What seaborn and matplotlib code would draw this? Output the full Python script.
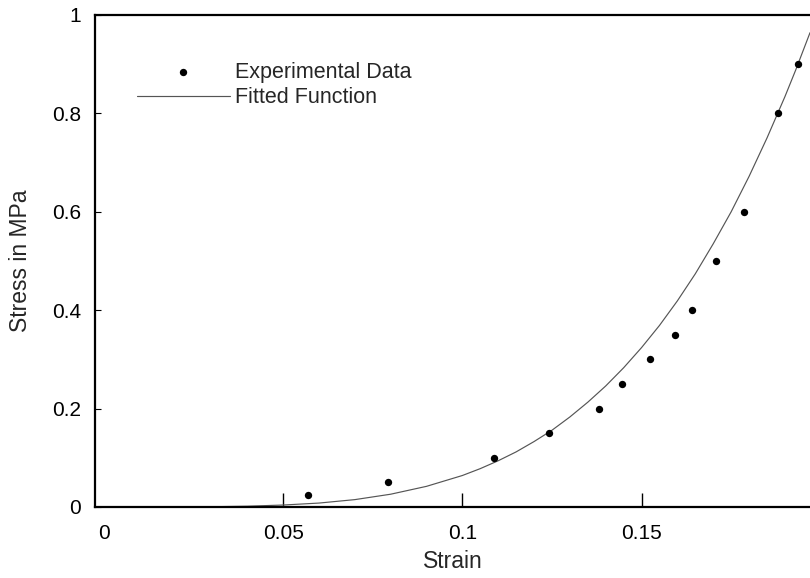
import matplotlib
matplotlib.use("Agg")
import matplotlib.pyplot as plt
import pandas as pd
import seaborn as sns

strain_exp = [0.057, 0.0793, 0.1087, 0.1243, 0.138, 0.1445, 0.1524, 0.1592, 0.164, 0.1707, 0.1785, 0.188, 0.1936]
stress_exp = [0.025, 0.05, 0.1, 0.15, 0.2, 0.25, 0.3, 0.35, 0.4, 0.5, 0.6, 0.8, 0.9]

# fitted curve, sampled from the drawn line
strain_fit = [0.0, 0.02, 0.03, 0.04, 0.05, 0.06, 0.07, 0.08, 0.09, 0.10, 0.105, 0.11, 0.115,
              0.12, 0.125, 0.13, 0.135, 0.14, 0.145, 0.15, 0.155, 0.16, 0.165, 0.17,
              0.175, 0.18, 0.185, 0.19, 0.193, 0.197]
stress_fit = [0.0, 0.0001, 0.0005, 0.0016, 0.004, 0.008, 0.015, 0.026, 0.042, 0.064, 0.078, 0.094, 0.112,
              0.133, 0.156, 0.183, 0.213, 0.246, 0.283, 0.324, 0.369, 0.419, 0.474, 0.535,
              0.600, 0.672, 0.750, 0.834, 0.888, 0.964]

x_ticks = [0, 0.05, 0.1, 0.15]
x_ticklabels = ["0", "0.05", "0.1", "0.15"]
y_ticks = [0, 0.2, 0.4, 0.6, 0.8, 1.0]
y_ticklabels = ["0", "0.2", "0.4", "0.6", "0.8", "1"]

df_exp = pd.DataFrame({"Strain": strain_exp, "Stress": stress_exp})
df_fit = pd.DataFrame({"Strain": strain_fit, "Stress": stress_fit})

sns.set_style("ticks")
plt.rcParams["font.family"] = ["Liberation Sans", "DejaVu Sans"]

fig = plt.figure(figsize=(8.1, 5.78), dpi=100)
ax = fig.add_axes([95 / 810, 1 - 507 / 578, 1 - 95 / 810, (507 - 15) / 578])

sns.lineplot(data=df_fit, x="Strain", y="Stress", ax=ax, color="#555555", linewidth=0.85,
             label="Fitted Function", zorder=2)
sns.scatterplot(data=df_exp, x="Strain", y="Stress", ax=ax, color="black", s=28,
                edgecolor="black", linewidth=0, label="Experimental Data", zorder=3)

ax.set_xlim(-0.0025, 0.197)
ax.set_ylim(0, 1)
ax.set_xticks(x_ticks)
ax.set_xticklabels(x_ticklabels)
ax.set_yticks(y_ticks)
ax.set_yticklabels(y_ticklabels)
ax.tick_params(axis="x", direction="in", length=10, width=1, pad=12, labelsize=15, colors="black")
ax.tick_params(axis="y", direction="in", length=4, width=0.8, pad=10, labelsize=15, colors="black")
# no tick mark drawn at strain 0
ax.xaxis.get_major_ticks()[0].tick1line.set_visible(False)

for side in ["left", "bottom", "top"]:
    ax.spines[side].set_visible(True)
    ax.spines[side].set_linewidth(1.6)
    ax.spines[side].set_color("black")
ax.spines["right"].set_visible(False)

ax.set_xlabel("Strain", fontsize=16.5)
ax.set_ylabel("Stress in MPa", fontsize=16.5)
ax.xaxis.set_label_coords(0.5, -0.087)
ax.yaxis.set_label_coords(-0.088, 0.5)

# legend: dots first, line second
handles, labels = ax.get_legend_handles_labels()
order = [labels.index("Experimental Data"), labels.index("Fitted Function")]
ax.legend([handles[i] for i in order], [labels[i] for i in order],
          loc="upper left", bbox_to_anchor=(42 / 715, 1 - 47 / 492), frameon=False,
          fontsize=15.5, handlelength=4.3, handletextpad=0.23, labelspacing=0.2,
          borderpad=0, borderaxespad=0)

fig.savefig("out.png", dpi=100)
